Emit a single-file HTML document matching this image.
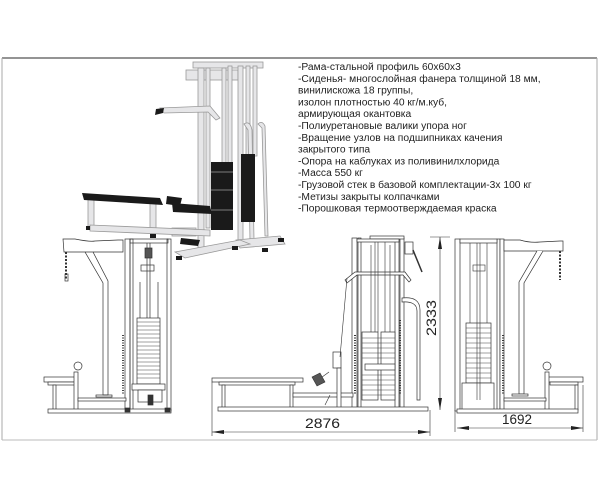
<!DOCTYPE html>
<html><head><meta charset="utf-8"><style>
html,body{margin:0;padding:0;background:#fff;width:600px;height:500px;overflow:hidden}
svg{display:block}
</style></head><body>
<svg width="600" height="500" viewBox="0 0 600 500" xmlns="http://www.w3.org/2000/svg">
<rect x="0" y="0" width="600" height="500" fill="#fff"/>
<line x1="2" y1="58" x2="597" y2="58" stroke="#555" stroke-width="1.2"/>
<line x1="2" y1="58" x2="2" y2="440" stroke="#aaa"/>
<line x1="597" y1="58" x2="597" y2="440" stroke="#aaa"/>
<line x1="2" y1="440" x2="597" y2="440" stroke="#bbb"/>

<!-- text -->
<g transform="translate(298,0) scale(0.98,1)" font-family="'Liberation Sans',sans-serif" font-size="10.5" fill="#222">
<text x="0" y="70">-Рама-стальной профиль 60х60х3</text>
<text x="0" y="81.8">-Сиденья- многослойная фанера толщиной 18 мм,</text>
<text x="0" y="93.6">винилискожа 18 группы,</text>
<text x="0" y="105.4">изолон плотностью 40 кг/м.куб,</text>
<text x="0" y="117.2">армирующая окантовка</text>
<text x="0" y="129">-Полиуретановые валики упора ног</text>
<text x="0" y="140.8">-Вращение узлов на подшипниках качения</text>
<text x="0" y="152.6">закрытого типа</text>
<text x="0" y="164.4">-Опора на каблуках из поливинилхлорида</text>
<text x="0" y="176.2">-Масса 550 кг</text>
<text x="0" y="188">-Грузовой стек в базовой комплектации-3х 100 кг</text>
<text x="0" y="199.8">-Метизы закрыты колпачками</text>
<text x="0" y="211.6">-Порошковая термоотверждаемая краска</text>
</g>

<!-- photo -->
<g stroke="#999" stroke-width="0.8" fill="#e6e6e8">
<rect x="193" y="62" width="70" height="6"/>
<rect x="186" y="70" width="52" height="10"/>
<rect x="198" y="68" width="6" height="180"/>
<rect x="206" y="68" width="4" height="160"/>
<rect x="222" y="68" width="4" height="100"/>
<rect x="228" y="66" width="4" height="100"/>
<rect x="238" y="66" width="5" height="180"/>
<rect x="246" y="66" width="4" height="90"/>
<rect x="253" y="66" width="4" height="90"/>
<path d="M258 124 Q262 120 265 126 L268 236 L265 236 L262 128 Z"/>
<path d="M244 124 Q250 120 252 130 L254 240 L250 240 L248 130 Z"/>
<path d="M236 240 L280 236 L285 244 L240 248 Z"/>
<path d="M175 252 L240 240 L250 244 L185 258 Z"/>
<rect x="172" y="228" width="24" height="8"/>
<rect x="88" y="198" width="6" height="30"/>
<rect x="150" y="202" width="6" height="30"/>
<path d="M90 225 L210 230 L210 236 L90 231 Z"/>
<path d="M160 108 L210 106 L220 118 L216 120 L208 112 L164 113 Z"/>
</g>
<g fill="#1a1a1a">
<rect x="211" y="162" width="22" height="68"/>
<rect x="241" y="154" width="14" height="68"/>
<path d="M82 193 L160 198 L163 205 L84 200 Z"/>
<path d="M172 203 L210 206 L212 214 L173 212 Z"/>
<path d="M167 196 L182 198 L180 206 L166 204 Z"/>
<path d="M156 109 L164 108 L163 113 L155 115 Z"/>
<path d="M181 238 L200 240 L198 246 L180 244 Z"/>
<rect x="176" y="256" width="6" height="4"/><rect x="232" y="246" width="6" height="4"/>
<rect x="278" y="238" width="6" height="4"/><rect x="262" y="248" width="6" height="4"/>
<rect x="86" y="226" width="4" height="4"/><rect x="150" y="234" width="6" height="4"/>
</g>
<g stroke="#ddd" stroke-width="0.6">
<line x1="211" y1="172" x2="233" y2="172"/><line x1="211" y1="190" x2="233" y2="190"/><line x1="211" y1="210" x2="233" y2="210"/>
</g>

<!-- LEFT VIEW -->
<g stroke="#333" stroke-width="0.7" fill="none">
<path d="M63 239 L75 239 Q90 242 95 241 L118 240 L123 240 L123 252 L64 252 Z" fill="#fff"/>
<line x1="66" y1="252" x2="66" y2="280" stroke-width="2" stroke-dasharray="2 1.5"/>
<rect x="65" y="274" width="3" height="7"/>
<path d="M85 252 L103 283 L103 395 L108 395 L108 281 L93 252"/>
<rect x="96" y="395" width="16" height="2"/>
<rect x="125" y="239" width="5" height="172"/>
<rect x="130" y="239" width="3" height="172"/>
<rect x="167" y="239" width="4" height="172"/>
<rect x="130" y="239" width="38" height="4"/>
<line x1="147" y1="243" x2="147" y2="380"/>
<line x1="150" y1="243" x2="150" y2="380"/>
<rect x="145" y="248" width="7" height="10" fill="#555"/>
<rect x="141" y="265" width="13" height="6"/>
<rect x="137" y="318" width="23" height="66" fill="#fff"/>
<line x1="140" y1="282" x2="140" y2="318"/><line x1="158" y1="282" x2="158" y2="318"/>
</g>
<g stroke="#444" stroke-width="0.5">
<line x1="137" y1="322" x2="160" y2="322"/><line x1="137" y1="326" x2="160" y2="326"/><line x1="137" y1="330" x2="160" y2="330"/><line x1="137" y1="334" x2="160" y2="334"/><line x1="137" y1="338" x2="160" y2="338"/><line x1="137" y1="342" x2="160" y2="342"/><line x1="137" y1="346" x2="160" y2="346"/><line x1="137" y1="350" x2="160" y2="350"/><line x1="137" y1="354" x2="160" y2="354"/><line x1="137" y1="358" x2="160" y2="358"/><line x1="137" y1="362" x2="160" y2="362"/><line x1="137" y1="366" x2="160" y2="366"/><line x1="137" y1="370" x2="160" y2="370"/><line x1="137" y1="374" x2="160" y2="374"/><line x1="137" y1="378" x2="160" y2="378"/>
<line x1="123" y1="335" x2="123" y2="395" stroke-dasharray="1 1.5" stroke-width="2"/>
</g>
<g stroke="#333" stroke-width="0.7" fill="#fff">
<rect x="132" y="384" width="33" height="6"/>
<rect x="138" y="390" width="24" height="12"/>
<rect x="148" y="395" width="5" height="10" fill="#333"/>
<rect x="44" y="377" width="32" height="5"/>
<rect x="48" y="382" width="28" height="3"/>
<rect x="53" y="385" width="3" height="25"/>
<rect x="74" y="372" width="4" height="38"/>
<circle cx="78" cy="366" r="4"/>
<rect x="78" y="398" width="48" height="3"/>
<rect x="48" y="409" width="123" height="4"/>
<rect x="125" y="408" width="5" height="4" fill="#333"/>
<rect x="165" y="408" width="5" height="4" fill="#333"/>
</g>

<!-- MIDDLE VIEW -->
<g stroke="#333" stroke-width="0.7" fill="#fff">
<rect x="352" y="238" width="5" height="172"/>
<rect x="358" y="238" width="3" height="172"/>
<rect x="395" y="238" width="4" height="172"/>
<rect x="400" y="238" width="4" height="172"/>
<rect x="370" y="236" width="34" height="3"/>
<rect x="357" y="239" width="42" height="3"/>
<path d="M345 280 L355 272 L405 272 L411 280 L409 282 L403 275 L357 275 L347 283 Z"/>
<rect x="405" y="242" width="8" height="12"/>
<path d="M402 298 Q420 296 420 310 L420 400 L417 400 L417 311 Q417 301 402 302 Z"/>
<rect x="362" y="332" width="16" height="68"/>
<rect x="381" y="332" width="14" height="68"/>
<rect x="365" y="364" width="30" height="6"/>
<rect x="212" y="378" width="91" height="4"/>
<rect x="219" y="382" width="76" height="3"/>
<rect x="222" y="385" width="3" height="25"/>
<rect x="290" y="385" width="3" height="25"/>
<rect x="293" y="393" width="60" height="4"/>
<rect x="333" y="352" width="8" height="16"/>
<rect x="337" y="368" width="4" height="40"/>
<rect x="218" y="407" width="210" height="4"/>
</g>
<g stroke="#333" stroke-width="0.6" fill="none">
<line x1="347" y1="278" x2="340" y2="357"/>
<line x1="375" y1="242" x2="375" y2="332"/><line x1="378" y1="242" x2="378" y2="332"/>
<line x1="385" y1="242" x2="385" y2="332"/>
<line x1="371" y1="245" x2="371" y2="332"/><line x1="390" y1="245" x2="390" y2="332"/>
<line x1="413" y1="250" x2="422" y2="272" stroke-width="1.5"/>
<line x1="329" y1="372" x2="318" y2="380"/>
<path d="M312 377 L320 373 L325 382 L317 386 Z" fill="#555"/>
<line x1="330" y1="395" x2="325" y2="405"/>
<line x1="355" y1="335" x2="355" y2="395" stroke-dasharray="1 1.5" stroke-width="2"/>
<line x1="400" y1="320" x2="400" y2="395" stroke-dasharray="1 1.5" stroke-width="2"/>
</g>
<g stroke="#444" stroke-width="0.5">
<line x1="362" y1="338" x2="395" y2="338"/><line x1="362" y1="343" x2="395" y2="343"/><line x1="362" y1="348" x2="395" y2="348"/><line x1="362" y1="353" x2="395" y2="353"/><line x1="362" y1="358" x2="395" y2="358"/><line x1="362" y1="375" x2="395" y2="375"/><line x1="362" y1="380" x2="395" y2="380"/><line x1="362" y1="385" x2="395" y2="385"/><line x1="362" y1="390" x2="395" y2="390"/><line x1="362" y1="395" x2="395" y2="395"/>
</g>
<g stroke="#333" stroke-width="0.6" fill="none">
<line x1="212" y1="382" x2="212" y2="436"/>
<line x1="430" y1="410" x2="430" y2="436"/>
<line x1="212" y1="432" x2="430" y2="432"/>
<line x1="440" y1="237" x2="440" y2="410"/>
<line x1="430" y1="237" x2="450" y2="237"/>
<line x1="455" y1="410" x2="455" y2="432"/>
<line x1="583" y1="385" x2="583" y2="432"/>
<line x1="457" y1="428" x2="583" y2="428"/>
</g>
<g fill="#222">
<path d="M212 432 L224 430 L224 434 Z"/><path d="M430 432 L418 430 L418 434 Z"/>
<path d="M440 237 L438 249 L442 249 Z"/><path d="M440 410 L438 398 L442 398 Z"/>
<path d="M457 428 L469 426 L469 430 Z"/><path d="M583 428 L571 426 L571 430 Z"/>
</g>
<g font-family="'Liberation Sans',sans-serif" font-size="14" fill="#222">
<text x="305" y="428" textLength="35" lengthAdjust="spacingAndGlyphs">2876</text>
<text x="502" y="424" textLength="30" lengthAdjust="spacingAndGlyphs">1692</text>
<text transform="translate(436,336) rotate(-90)" textLength="36" lengthAdjust="spacingAndGlyphs">2333</text>
</g>

<!-- RIGHT VIEW -->
<g stroke="#333" stroke-width="0.7" fill="#fff">
<rect x="455" y="239" width="5" height="172"/>
<rect x="497" y="239" width="3" height="172"/>
<rect x="500" y="239" width="4" height="172"/>
<rect x="460" y="239" width="37" height="4"/>
<path d="M504 240 L520 240 Q530 243 540 242 L560 241 L563 241 L563 251 L504 251 Z"/>
<path d="M537 251 L519 282 L519 394 L524 394 L524 283 L543 251"/>
<rect x="512" y="394" width="16" height="2"/>
<rect x="466" y="323" width="25" height="60"/>
<rect x="462" y="383" width="32" height="27"/>
<rect x="547" y="377" width="36" height="5"/>
<rect x="550" y="382" width="28" height="3"/>
<rect x="575" y="385" width="3" height="25"/>
<rect x="545" y="372" width="4" height="38"/>
<circle cx="547" cy="366" r="4"/>
<rect x="504" y="398" width="42" height="3"/>
<rect x="457" y="409" width="121" height="4"/>
</g>
<g stroke="#333" stroke-width="0.6" fill="none">
<line x1="477" y1="243" x2="477" y2="400"/><line x1="480" y1="243" x2="480" y2="400"/>
<line x1="470" y1="243" x2="470" y2="323"/><line x1="487" y1="243" x2="487" y2="323"/>
<rect x="473" y="265" width="12" height="6"/>
<line x1="560" y1="251" x2="560" y2="280" stroke-width="2" stroke-dasharray="2 1.5"/>
<line x1="503" y1="335" x2="503" y2="395" stroke-dasharray="1 1.5" stroke-width="2"/>
</g>
<g stroke="#444" stroke-width="0.5">
<line x1="466" y1="328" x2="491" y2="328"/><line x1="466" y1="333" x2="491" y2="333"/><line x1="466" y1="338" x2="491" y2="338"/><line x1="466" y1="343" x2="491" y2="343"/><line x1="466" y1="348" x2="491" y2="348"/><line x1="466" y1="353" x2="491" y2="353"/><line x1="466" y1="358" x2="491" y2="358"/><line x1="466" y1="363" x2="491" y2="363"/><line x1="466" y1="368" x2="491" y2="368"/><line x1="466" y1="373" x2="491" y2="373"/><line x1="466" y1="378" x2="491" y2="378"/>
</g>
</svg>
</body></html>
